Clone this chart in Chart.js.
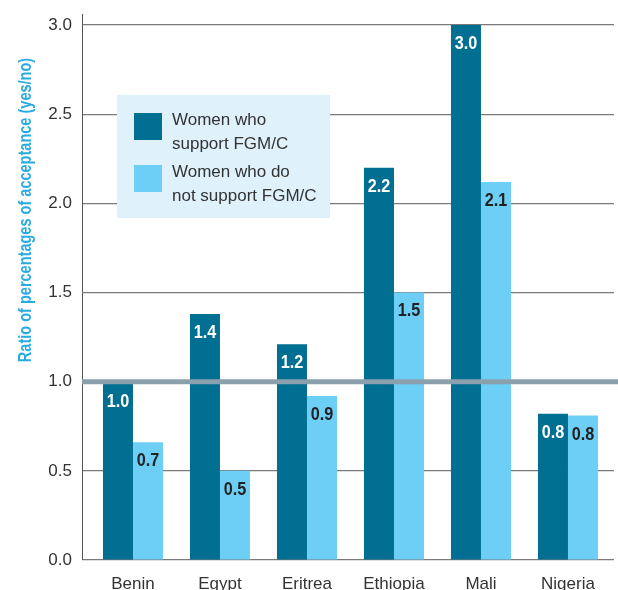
<!DOCTYPE html>
<html>
<head>
<meta charset="utf-8">
<script src="https://cdn.jsdelivr.net/npm/chart.js@4.4.1/dist/chart.umd.min.js"></script>
<style>
html,body{margin:0;padding:0;background:#fff;}
#wrap{width:618px;height:590px;position:relative;}
</style>
</head>
<body>
<div id="wrap"><canvas id="c"></canvas></div>
<script>
const categories = ["Benin","Egypt","Eritrea","Ethiopia","Mali","Nigeria"];
const supportValues = [0.99, 1.38, 1.21, 2.20, 3.00, 0.82];
const noSupportValues = [0.66, 0.50, 0.92, 1.50, 2.12, 0.81];
const seriesNames = ["Women who support FGM/C","Women who do not support FGM/C"];
const legendLines = [["Women who","support FGM/C"],["Women who do","not support FGM/C"]];
const yTicks = [0,0.5,1.0,1.5,2.0,2.5,3.0];
const referenceValue = 1.0;
const yTitle = "Ratio of percentages of acceptance (yes/no)";

const DARK = "#006f91";
const LIGHT = "#6dcff6";
const FONT = "'Liberation Sans', Arial, sans-serif";

const refLine = {
  id: "refLine",
  afterDatasetsDraw(chart) {
    const {ctx, chartArea, scales} = chart;
    const y = scales.y.getPixelForValue(referenceValue);
    ctx.save();
    ctx.strokeStyle = "#8ba0ad";
    ctx.lineWidth = 5;
    ctx.beginPath();
    ctx.moveTo(chartArea.left, y);
    ctx.lineTo(chart.width, y);
    ctx.stroke();
    // small extension of the y axis line above the top tick
    ctx.strokeStyle = "#555555";
    ctx.lineWidth = 1;
    ctx.beginPath();
    ctx.moveTo(chartArea.left + 0.5, chartArea.top - 11);
    ctx.lineTo(chartArea.left + 0.5, chartArea.top);
    ctx.stroke();
    ctx.restore();
  }
};

const valueLabels = {
  id: "valueLabels",
  afterDatasetsDraw(chart) {
    const ctx = chart.ctx;
    ctx.save();
    ctx.font = "bold 18px " + FONT;
    ctx.textAlign = "center";
    ctx.textBaseline = "middle";
    chart.data.datasets.forEach((ds, di) => {
      const meta = chart.getDatasetMeta(di);
      ctx.fillStyle = di === 0 ? "#ffffff" : "#222222";
      meta.data.forEach((el, i) => {
        const v = ds.data[i].y;
        ctx.save();
        ctx.translate(el.x, el.y + 19);
        ctx.scale(0.9, 1);
        ctx.fillText(v.toFixed(1), 0, 0);
        ctx.restore();
      });
    });
    ctx.restore();
  }
};

const legendBox = {
  id: "legendBox",
  afterDraw(chart) {
    const ctx = chart.ctx;
    ctx.save();
    ctx.fillStyle = "#dff1fb";
    ctx.fillRect(117, 95, 213, 123);
    const colors = [DARK, LIGHT];
    const sqY = [113, 165];
    ctx.font = "17px " + FONT;
    ctx.textBaseline = "middle";
    ctx.textAlign = "left";
    for (let k = 0; k < 2; k++) {
      ctx.fillStyle = colors[k];
      ctx.fillRect(134, sqY[k], 28, 27);
      ctx.fillStyle = "#333333";
      ctx.fillText(legendLines[k][0], 172, sqY[k] + 7);
      ctx.fillText(legendLines[k][1], 172, sqY[k] + 31);
    }
    ctx.restore();
  }
};

const yTitlePlugin = {
  id: "yTitlePlugin",
  afterDraw(chart) {
    const ctx = chart.ctx;
    ctx.save();
    ctx.translate(26, 210);
    ctx.rotate(-Math.PI / 2);
    ctx.scale(0.83, 1);
    ctx.font = "bold 17.5px " + FONT;
    ctx.fillStyle = "#29abe2";
    ctx.textAlign = "center";
    ctx.textBaseline = "middle";
    ctx.fillText(yTitle, 0, 0);
    ctx.restore();
  }
};

new Chart(document.getElementById("c"), {
  type: "bar",
  data: {
    datasets: [
      { label: seriesNames[0], data: supportValues.map((v, i) => ({x: i, y: v})), backgroundColor: DARK, barPercentage: 1.0, categoryPercentage: 0.69 },
      { label: seriesNames[1], data: noSupportValues.map((v, i) => ({x: i, y: v})), backgroundColor: LIGHT, barPercentage: 1.0, categoryPercentage: 0.69 }
    ]
  },
  options: {
    responsive: true,
    maintainAspectRatio: false,
    animation: false,
    layout: { padding: { top: 25, right: 4, left: 0, bottom: 0 } },
    plugins: { legend: { display: false }, tooltip: { enabled: false } },
    scales: {
      x: {
        type: "linear",
        offset: false,
        min: -0.586,
        max: 5.529,
        grid: { display: false, offset: false },
        border: { display: false },
        afterBuildTicks(scale) { scale.ticks = categories.map((c, i) => ({ value: i })); },
        afterFit(scale) { scale.height = 30; },
        ticks: {
          autoSkip: false,
          maxRotation: 0,
          padding: 6,
          color: "#333333",
          font: { family: FONT, size: 17 },
          callback: (v) => categories[v]
        }
      },
      y: {
        min: 0,
        max: 3.0,
        afterBuildTicks(scale) { scale.ticks = yTicks.map(v => ({ value: v })); },
        afterFit(scale) { scale.width = 82; },
        grid: { color: "#7a7a7a", lineWidth: 1.2, drawTicks: false },
        border: { color: "#555555", width: 1 },
        ticks: {
          padding: 10,
          color: "#333333",
          font: { family: FONT, size: 17 },
          callback: (v) => Number(v).toFixed(1)
        }
      }
    }
  },
  plugins: [refLine, valueLabels, legendBox, yTitlePlugin]
});
</script>
</body>
</html>
